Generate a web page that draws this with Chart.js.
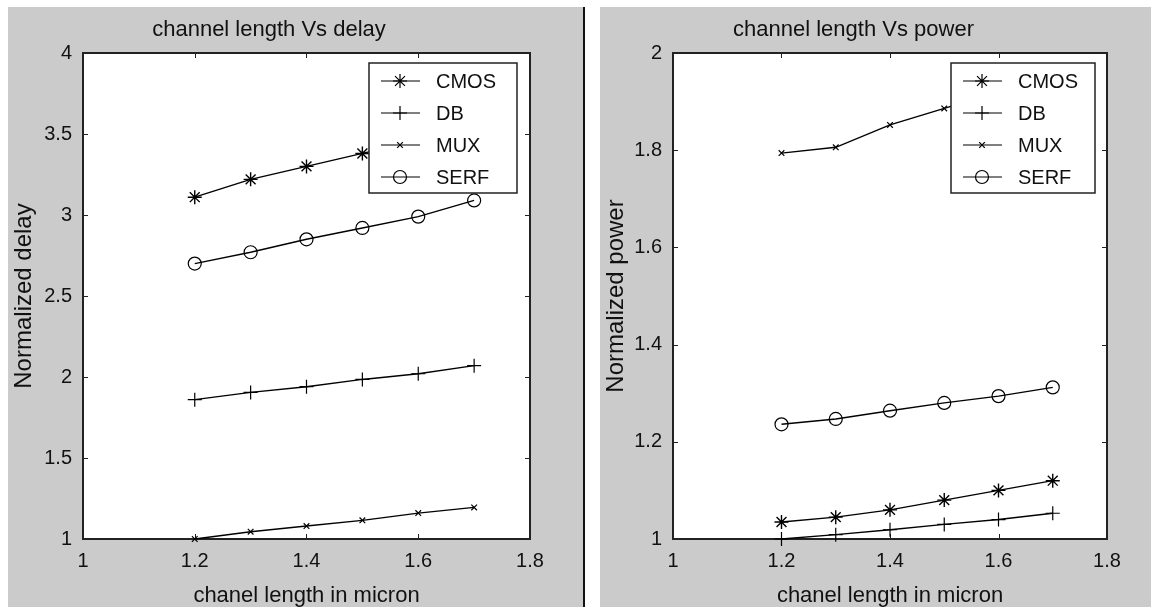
<!DOCTYPE html>
<html>
<head>
<meta charset="utf-8">
<title>channel length Vs delay / power</title>
<script src="https://cdn.jsdelivr.net/npm/chart.js@4.4.1/dist/chart.umd.min.js"></script>
<style>
  html, body { margin: 0; padding: 0; background: #fff; }
  body { width: 1151px; height: 607px; position: relative; overflow: hidden; }
  .panel { position: absolute; top: 7px; height: 600px; background: #cbcbcb; }
  #leftPanel { left: 8px; width: 575px; }
  #rightPanel { left: 600px; width: 551px; }
  #sep { position: absolute; left: 583px; top: 7px; width: 2px; height: 600px; background: #111; }
  canvas { display: block; }
</style>
</head>
<body>
<div class="panel" id="leftPanel"><canvas id="delayChart" width="575" height="600"></canvas></div>
<div id="sep"></div>
<div class="panel" id="rightPanel"><canvas id="powerChart" width="551" height="600"></canvas></div>

<script>
// ===== DATA =====
const channelLength = [1.2, 1.3, 1.4, 1.5, 1.6, 1.7];
const xTicks = [1, 1.2, 1.4, 1.6, 1.8];

const delayCMOS = [3.11, 3.22, 3.30, 3.38, 3.46, 3.54];
const delayDB   = [1.86, 1.905, 1.94, 1.985, 2.02, 2.07];
const delayMUX  = [1.0, 1.045, 1.08, 1.115, 1.16, 1.195];
const delaySERF = [2.70, 2.77, 2.85, 2.92, 2.99, 3.09];
const delayTicks = [1, 1.5, 2, 2.5, 3, 3.5, 4];

const powerCMOS = [1.035, 1.045, 1.06, 1.08, 1.10, 1.12];
const powerDB   = [1.0, 1.009, 1.019, 1.03, 1.04, 1.053];
const powerMUX  = [1.794, 1.806, 1.852, 1.886, 1.92, 1.95];
const powerSERF = [1.236, 1.247, 1.264, 1.28, 1.294, 1.312];
const powerTicks = [1, 1.2, 1.4, 1.6, 1.8, 2];

const seriesNames = ["CMOS", "DB", "MUX", "SERF"];

// ===== HELPERS =====
const $ = (id) => document.getElementById(id);
const FONT = "'Liberation Sans', Arial, sans-serif";
const INK = "#111";

const markers = {
  CMOS: { pointStyle: "star", pointRadius: 7, pointBorderWidth: 1.4 },
  DB:   { pointStyle: "cross", pointRadius: 7, pointBorderWidth: 1.2 },
  MUX:  { pointStyle: "crossRot", pointRadius: 4, pointBorderWidth: 1.2 },
  SERF: { pointStyle: "circle", pointRadius: 6.5, pointBorderWidth: 1.2 }
};

function makeDatasets(values) {
  return values.map((ys, i) => ({
    label: seriesNames[i],
    data: channelLength.map((x, k) => ({ x, y: ys[k] })),
    borderColor: "#000",
    borderWidth: 1.4,
    pointBorderColor: "#000",
    pointBackgroundColor: "rgba(0,0,0,0)",
    tension: 0,
    clip: false,
    ...markers[seriesNames[i]]
  }));
}

// white plot box, inward ticks on all four sides, frame
const frameTicks = {
  id: "frameTicks",
  beforeDatasetsDraw(chart) {
    const { ctx, chartArea: a, scales } = chart;
    ctx.save();
    ctx.fillStyle = "#fff";
    ctx.fillRect(a.left, a.top, a.right - a.left, a.bottom - a.top);
    ctx.strokeStyle = "#222";
    ctx.lineWidth = 1;
    ctx.beginPath();
    scales.x.ticks.forEach(t => {
      const px = Math.round(scales.x.getPixelForValue(t.value)) + 0.5;
      ctx.moveTo(px, a.top); ctx.lineTo(px, a.top + 5);
      ctx.moveTo(px, a.bottom); ctx.lineTo(px, a.bottom - 5);
    });
    scales.y.ticks.forEach(t => {
      const py = Math.round(scales.y.getPixelForValue(t.value)) + 0.5;
      ctx.moveTo(a.left, py); ctx.lineTo(a.left + 5, py);
      ctx.moveTo(a.right, py); ctx.lineTo(a.right - 5, py);
    });
    ctx.stroke();
    ctx.lineWidth = 2;
    ctx.strokeRect(a.left, a.top, a.right - a.left, a.bottom - a.top);
    ctx.restore();
  }
};

// matlab style legend box, drawn over the lines
const boxLegend = {
  id: "boxLegend",
  afterDatasetsDraw(chart, args, opts) {
    const { ctx, chartArea: a } = chart;
    const x0 = a.right - opts.right - opts.width;
    const y0 = a.top + opts.top;
    ctx.save();
    ctx.fillStyle = "#fff";
    ctx.fillRect(x0, y0, opts.width, opts.height);
    ctx.strokeStyle = "#222";
    ctx.lineWidth = 1.5;
    ctx.strokeRect(x0, y0, opts.width, opts.height);
    chart.data.datasets.forEach((ds, i) => {
      const cy = y0 + opts.first + i * opts.step;
      ctx.strokeStyle = "#000";
      ctx.lineWidth = 1.2;
      ctx.beginPath(); ctx.moveTo(x0 + 12, cy); ctx.lineTo(x0 + 51, cy); ctx.stroke();
      ctx.fillStyle = "rgba(0,0,0,0)";
      Chart.helpers.drawPoint(ctx, { pointStyle: ds.pointStyle, radius: ds.pointRadius, borderWidth: 1.2, rotation: 0 }, x0 + 31, cy);
      ctx.fillStyle = INK;
      ctx.font = `20px ${FONT}`;
      ctx.textBaseline = "middle";
      ctx.textAlign = "left";
      ctx.fillText(ds.label, x0 + 67, cy + 1);
    });
    ctx.restore();
  }
};

function buildChart(id, cfg) {
  return new Chart($(id).getContext("2d"), {
    type: "line",
    data: { datasets: makeDatasets(cfg.series) },
    plugins: [frameTicks, boxLegend],
    options: {
      responsive: false,
      animation: false,
      layout: { padding: { left: 0, right: cfg.padRight, top: 0, bottom: 0 } },
      plugins: {
        legend: { display: false },
        tooltip: { enabled: false },
        title: {
          display: true, text: cfg.title, color: INK,
          font: { family: FONT, size: 22, weight: "normal", lineHeight: 1.2 },
          padding: { top: 10, bottom: 9.6 }
        },
        boxLegend: { width: cfg.legendWidth, height: 130, right: cfg.legendRight, top: 10, first: 18, step: 32 }
      },
      scales: {
        x: {
          type: "linear", min: 1, max: 1.8,
          afterBuildTicks: (s) => { s.ticks = xTicks.map(v => ({ value: v })); },
          afterFit: (s) => { s.height = 68; },
          grid: { display: false, drawTicks: false },
          border: { display: false },
          ticks: { color: INK, padding: 10, font: { family: FONT, size: 20 }, callback: (v) => String(v) },
          title: {
            display: true, text: "chanel length in micron", color: INK,
            font: { family: FONT, size: 22, lineHeight: 1 }, padding: { top: 0, bottom: 0 }
          }
        },
        y: {
          type: "linear", min: cfg.yMin, max: cfg.yMax,
          afterBuildTicks: (s) => { s.ticks = cfg.yTicks.map(v => ({ value: v })); },
          afterFit: (s) => { s.width = cfg.yWidth; },
          grid: { display: false, drawTicks: false },
          border: { display: false },
          ticks: { color: INK, padding: 11, font: { family: FONT, size: 20 }, callback: (v) => String(v) },
          title: {
            display: true, text: cfg.yTitle, color: INK,
            font: { family: FONT, size: 24, lineHeight: 1.2 }, padding: { top: 2, bottom: 0 }
          }
        }
      }
    }
  });
}

// ===== INIT =====
buildChart("delayChart", {
  title: "channel length Vs delay",
  yTitle: "Normalized delay",
  series: [delayCMOS, delayDB, delayMUX, delaySERF],
  yMin: 1, yMax: 4,
  yTicks: delayTicks,
  yWidth: 75, padRight: 53,
  legendWidth: 148, legendRight: 13
});

buildChart("powerChart", {
  title: "channel length Vs power",
  yTitle: "Normalized power",
  series: [powerCMOS, powerDB, powerMUX, powerSERF],
  yMin: 1, yMax: 2,
  yTicks: powerTicks,
  yWidth: 73, padRight: 44,
  legendWidth: 144, legendRight: 12
});
</script>
</body>
</html>
